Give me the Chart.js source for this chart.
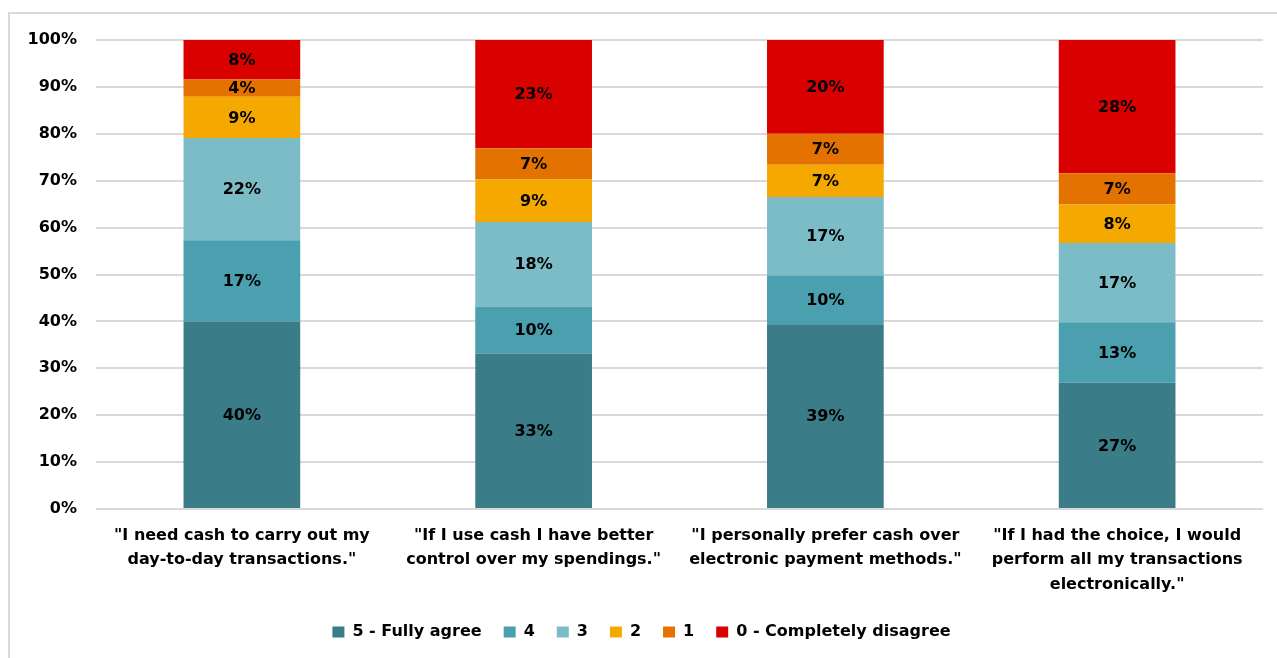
<!DOCTYPE html>
<html>
<head>
<meta charset="utf-8">
<script src="https://cdn.jsdelivr.net/npm/chart.js@4"></script>
<style>
  html, body { margin: 0; padding: 0; background: #fff; }
  #wrap { position: relative; width: 1277px; height: 658px; }
  #frame { position: absolute; left: 8px; top: 12px; right: 0; bottom: 0;
           border-left: 2px solid #d9d9d9; border-top: 2px solid #d9d9d9; }
  #canvas1 { position: absolute; left: 0; top: 0; }
</style>
</head>
<body>
<div id="wrap">
  <div id="frame"></div>
  <canvas id="canvas1" width="1277" height="658"></canvas>
</div>
<script>
// statements (x axis)
var statements = [
	['"I need cash to carry out my', 'day-to-day transactions."'],
	['"If I use cash I have better', 'control over my spendings."'],
	['"I personally prefer cash over', 'electronic payment methods."'],
	['"If I had the choice, I would', 'perform all my transactions', 'electronically."']
];

// share of answers per statement, in %
var agree5   = [40.0, 33.1, 39.4, 26.9];
var agree4   = [17.3, 10.1, 10.4, 12.9];
var agree3   = [21.8, 18.0, 16.7, 16.9];
var agree2   = [8.8, 9.1, 6.9, 8.2];
var agree1   = [3.7, 6.6, 6.6, 6.7];
var agree0   = [8.4, 23.1, 20.0, 28.4];

var yTicks = [0, 10, 20, 30, 40, 50, 60, 70, 80, 90, 100];

var fontFamily = "'DejaVu Sans', sans-serif";

// writes the percentage in the middle of every segment
var segmentLabels = {
	id: 'segmentLabels',
	afterDatasetsDraw: function(chart) {
		var ctx = chart.ctx;
		ctx.save();
		ctx.font = 'bold 16px ' + fontFamily;
		ctx.fillStyle = '#000';
		ctx.textAlign = 'center';
		ctx.textBaseline = 'middle';
		chart.data.datasets.forEach(function(ds, i) {
			chart.getDatasetMeta(i).data.forEach(function(bar, j) {
				var v = ds.data[j];
				ctx.fillText(Math.round(v) + '%', bar.x, (bar.y + bar.base) / 2 + 1);
			});
		});
		ctx.restore();
	}
};

var ctx = document.getElementById("canvas1").getContext("2d");
window.myBar = new Chart(ctx, {
	type: 'bar',
	data: {
		labels: statements,
		datasets: [
			{ label: '5 - Fully agree', backgroundColor: '#3a7c87', data: agree5 },
			{ label: '4', backgroundColor: '#4aa0af', data: agree4 },
			{ label: '3', backgroundColor: '#7bbcc7', data: agree3 },
			{ label: '2', backgroundColor: '#f5a800', data: agree2 },
			{ label: '1', backgroundColor: '#e47200', data: agree1 },
			{ label: '0 - Completely disagree', backgroundColor: '#d90000', data: agree0 }
		]
	},
	options: {
		responsive: false,
		animation: false,
		barPercentage: 0.4,
		categoryPercentage: 1.0,
		layout: { padding: { left: 20, right: 14, top: 40, bottom: 8 } },
		plugins: {
			title: { display: false },
			tooltip: { enabled: false },
			legend: {
				position: 'bottom',
				labels: {
					color: '#000',
					boxWidth: 12,
					boxHeight: 11,
					padding: 22,
					font: { family: fontFamily, size: 16, weight: 'bold' }
				}
			}
		},
		scales: {
			x: {
				stacked: true,
				grid: { display: false },
				border: { display: false },
				ticks: {
					color: '#000',
					padding: 6,
					maxRotation: 0,
					font: { family: fontFamily, size: 16, weight: 'bold', lineHeight: 1.55 }
				},
				afterFit: function(scale) { scale.height = 93; }
			},
			y: {
				stacked: true,
				min: 0,
				max: 100,
				afterBuildTicks: function(scale) {
					scale.ticks = yTicks.map(function(v) { return { value: v }; });
				},
				grid: { color: '#d9d9d9', lineWidth: 2, drawTicks: false },
				border: { display: false },
				ticks: {
					color: '#000',
					padding: 19,
					font: { family: fontFamily, size: 16, weight: 'bold' },
					callback: function(v) { return v + '%'; }
				},
				afterFit: function(scale) { scale.width = 76; }
			}
		}
	},
	plugins: [segmentLabels]
});
</script>
</body>
</html>
